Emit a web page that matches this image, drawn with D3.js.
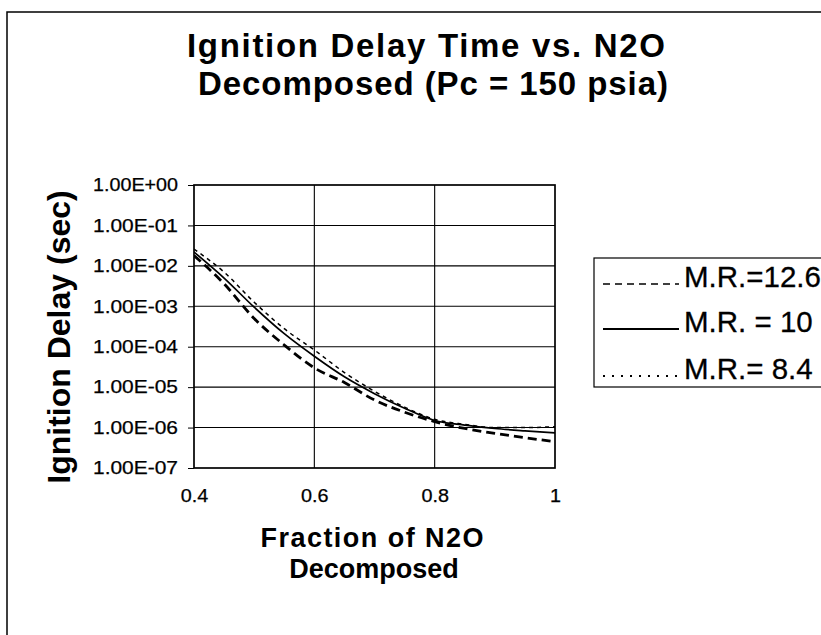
<!DOCTYPE html>
<html>
<head>
<meta charset="utf-8">
<script src="https://cdn.jsdelivr.net/npm/d3@7/dist/d3.min.js"></script>
<style>
  html, body { margin: 0; padding: 0; background: #fff; }
  svg { display: block; font-family: "Liberation Sans", Arial, Helvetica, sans-serif; }
</style>
</head>
<body>
<svg id="chart" width="821" height="635"></svg>
<script>
// Fraction of N2O decomposed (x) and ignition delay in seconds for each mixture ratio
const fraction = [0.40, 0.45, 0.50, 0.55, 0.60, 0.65, 0.70, 0.75, 0.80, 0.85, 0.90, 0.95, 1.00];
const delayMR126 = [1.8e-2, 3.6e-3, 5.0e-4, 1.1e-4, 3.0e-5, 1.3e-5, 4.8e-6, 2.4e-6, 1.4e-6, 9.5e-7, 7.2e-7, 5.6e-7, 4.5e-7];
const delayMR10  = [2.2e-2, 5.0e-3, 9.5e-4, 2.1e-4, 5.8e-5, 1.8e-5, 6.9e-6, 3.0e-6, 1.5e-6, 1.15e-6, 9.5e-7, 8.3e-7, 7.4e-7];
const delayMR84  = [2.6e-2, 7.0e-3, 1.26e-3, 2.8e-4, 8.3e-5, 2.3e-5, 7.9e-6, 3.2e-6, 1.6e-6, 1.2e-6, 1.0e-6, 1.0e-6, 1.05e-6];
const seriesNames = ["M.R.=12.6", "M.R. = 10", "M.R.= 8.4"];

const xTicks = [0.4, 0.6, 0.8, 1];
const xTickLabels = ["0.4", "0.6", "0.8", "1"];
const yTicks = [1, 1e-1, 1e-2, 1e-3, 1e-4, 1e-5, 1e-6, 1e-7];
const yTickLabels = ["1.00E+00", "1.00E-01", "1.00E-02", "1.00E-03", "1.00E-04", "1.00E-05", "1.00E-06", "1.00E-07"];

const titleLines = ["Ignition Delay Time vs. N2O", "Decomposed (Pc = 150 psia)"];
const xTitleLines = ["Fraction of N2O", "Decomposed"];
const yTitle = "Ignition Delay (sec)";

const series = [
  { name: seriesNames[0], values: delayMR126, width: 2.8, dash: "9,5", legendWidth: 1.5, legendDash: "7,5" },
  { name: seriesNames[1], values: delayMR10,  width: 1.7, dash: null,  legendWidth: 1.9, legendDash: null },
  { name: seriesNames[2], values: delayMR84,  width: 1.5, dash: "4,4", legendWidth: 1.9, legendDash: "2,7" }
];

const svg = d3.select("#chart");
const plot = { left: 194, top: 185, right: 555, bottom: 468 };
const fontStack = "'Liberation Sans', Arial, sans-serif";

const x = d3.scaleLinear().domain([0.4, 1]).range([plot.left, plot.right]);
const y = d3.scaleLog().domain([1e-7, 1]).range([plot.bottom, plot.top]);

// stretch label glyphs horizontally by a factor
function widen(selection, factor) {
  selection.each(function () {
    const w = this.getComputedTextLength();
    d3.select(this).attr("textLength", w * factor).attr("lengthAdjust", "spacingAndGlyphs");
  });
}

// outer chart frame (runs off the right and bottom edges)
svg.append("rect")
  .attr("x", 7).attr("y", 12).attr("width", 840).attr("height", 660)
  .attr("fill", "none").attr("stroke", "#000").attr("stroke-width", 1.5);

// title
const title = svg.append("g").attr("font-weight", "bold").attr("font-size", 33).attr("text-anchor", "middle");
title.append("text").attr("x", 426).attr("y", 57)
  .attr("textLength", 478).attr("lengthAdjust", "spacing").text(titleLines[0]);
title.append("text").attr("x", 433).attr("y", 95)
  .attr("textLength", 470).attr("lengthAdjust", "spacing").text(titleLines[1]);

// gridlines
const grid = svg.append("g").attr("stroke", "#000").attr("stroke-width", 1.1);
grid.selectAll("line.h").data(yTicks.slice(1, -1)).join("line")
  .attr("x1", plot.left).attr("x2", plot.right)
  .attr("y1", d => y(d)).attr("y2", d => y(d));
grid.selectAll("line.v").data(xTicks.slice(1, -1)).join("line")
  .attr("y1", plot.top).attr("y2", plot.bottom)
  .attr("x1", d => x(d)).attr("x2", d => x(d));

// y axis
const yAxis = d3.axisLeft(y)
  .tickValues(yTicks)
  .tickFormat((d, i) => yTickLabels[i])
  .tickSize(6).tickPadding(10);
const gy = svg.append("g").attr("transform", `translate(${plot.left},0)`).call(yAxis);
gy.select(".domain").remove();
gy.selectAll("line").attr("stroke", "#000");
gy.selectAll("text").attr("font-size", 18).attr("fill", "#000").attr("font-family", fontStack)
  .attr("stroke", "#000").attr("stroke-width", 0.25)
  .attr("textLength", 85).attr("lengthAdjust", "spacingAndGlyphs");

// x axis
const xAxis = d3.axisBottom(x)
  .tickValues(xTicks)
  .tickFormat((d, i) => xTickLabels[i])
  .tickSize(0).tickPadding(21);
const gx = svg.append("g").attr("transform", `translate(0,${plot.bottom})`).call(xAxis);
gx.select(".domain").remove();
gx.selectAll("text").attr("font-size", 18).attr("fill", "#000").attr("font-family", fontStack)
  .attr("stroke", "#000").attr("stroke-width", 0.25)
  .call(widen, 1.1);

// plot border
svg.append("rect")
  .attr("x", plot.left).attr("y", plot.top)
  .attr("width", plot.right - plot.left).attr("height", plot.bottom - plot.top)
  .attr("fill", "none").attr("stroke", "#000").attr("stroke-width", 1.7);

// data lines
svg.append("clipPath").attr("id", "plotClip").append("rect")
  .attr("x", plot.left).attr("y", plot.top)
  .attr("width", plot.right - plot.left).attr("height", plot.bottom - plot.top);

const line = d3.line()
  .x(d => x(d[0])).y(d => y(d[1]))
  .curve(d3.curveMonotoneX);

svg.append("g").attr("clip-path", "url(#plotClip)")
  .selectAll("path").data(series).join("path")
  .attr("d", s => line(fraction.map((f, i) => [f, s.values[i]])))
  .attr("fill", "none").attr("stroke", "#000")
  .attr("stroke-width", s => s.width)
  .attr("stroke-dasharray", s => s.dash);

// axis titles
const xt = svg.append("g").attr("font-weight", "bold").attr("font-size", 27).attr("text-anchor", "middle");
xt.append("text").attr("x", 372).attr("y", 547)
  .attr("textLength", 223).attr("lengthAdjust", "spacing").text(xTitleLines[0]);
xt.append("text").attr("x", 374).attr("y", 578).text(xTitleLines[1]);

svg.append("text")
  .attr("transform", "translate(70,337) rotate(-90)")
  .attr("text-anchor", "middle").attr("font-weight", "bold").attr("font-size", 32)
  .text(yTitle);

// legend
const legend = svg.append("g");
legend.append("rect")
  .attr("x", 594).attr("y", 258).attr("width", 260).attr("height", 129)
  .attr("fill", "#fff").attr("stroke", "#000").attr("stroke-width", 1.2);
const rowY = [284, 329, 376];
const rows = legend.selectAll("g.row").data(series).join("g")
  .attr("transform", (s, i) => `translate(0,${rowY[i]})`);
rows.append("line")
  .attr("x1", 603).attr("x2", 679).attr("y1", 0).attr("y2", 0)
  .attr("stroke", "#000")
  .attr("stroke-width", s => s.legendWidth)
  .attr("stroke-dasharray", s => s.legendDash);
rows.append("text")
  .attr("x", 684).attr("y", 3).attr("font-size", 29.5).attr("fill", "#000")
  .attr("stroke", "#000").attr("stroke-width", 0.3)
  .text(s => s.name);
</script>
</body>
</html>
